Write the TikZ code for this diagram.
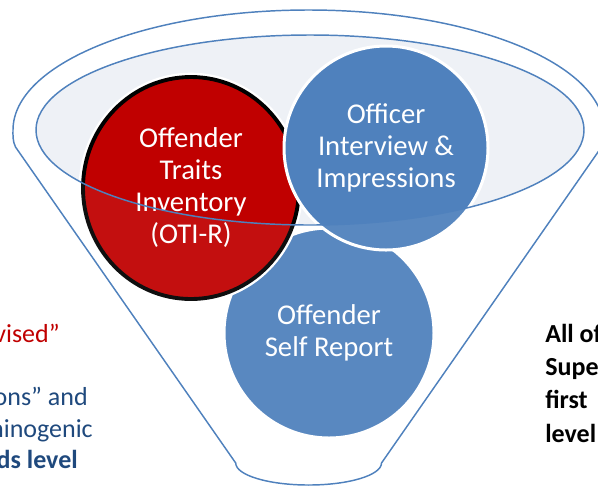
\documentclass[tikz,border=0pt]{standalone}
\usepackage{fontspec}
\setmainfont{Carlito}
\usetikzlibrary{shapes.geometric}

\definecolor{funnelblue}{RGB}{79,129,189}
\definecolor{otired}{RGB}{192,0,0}
\definecolor{notenavy}{RGB}{31,73,125}
\definecolor{rimfill}{RGB}{238,241,246}

% funnel outline (px, y downwards)
\def\funnelpath{(235.7,463) -- (15.5,147) .. controls (12.5,141) and (13,135) .. (13,130)
  arc[start angle=180, end angle=360, x radius=295.5, y radius=120]
  .. controls (604,135) and (604.5,141) .. (601.5,147) -- (381.5,463)
  arc[start angle=0, end angle=180, x radius=72.9, y radius=22] -- cycle}

\begin{document}
\begin{tikzpicture}[x=0.75pt, y=-0.75pt,
    every node/.style={font=\fontsize{21.5}{24}\selectfont, align=center},
    source/.style={circle, fill=funnelblue, draw=white, line width=2.25pt, text=white, inner sep=0pt},
    sidenote/.style={font=\fontsize{19.5}{23}\selectfont, inner sep=0pt},
    boldnote/.style={sidenote, font=\fontsize{19.5}{23}\selectfont\bfseries}]
        \useasboundingbox (0,0) rectangle (598,487);

        % Funnel opening
        \fill[rimfill] (310,130) ellipse [x radius=274, y radius=95];

        % The three sources
        \node[source, minimum size=157.5pt] (selfreport) at (329,333) {Offender\\Self Report};
        \node[ellipse, fill=otired, draw=black, line width=2.9pt, text=white, inner sep=0pt,
              minimum width=162pt, minimum height=166.5pt,
              preaction={draw=white, line width=6.5pt}] (oti) at (191,188) {Offender\\Traits\\Inventory\\(OTI-R)};
        \node[source, minimum size=153pt] (officer) at (386,148) {Officer\\Interview \&\\Impressions};

        % Funnel body in front
        \begin{scope}
            \clip \funnelpath;
            \fill[white, opacity=0.06, even odd rule] (0,0) rectangle (598,487) (310,130) ellipse [x radius=274, y radius=95];
        \end{scope}
        \draw[funnelblue, line width=1.1pt] (310,130) ellipse [x radius=274, y radius=95];
        \draw[funnelblue, line width=1.1pt] \funnelpath;

        % Notes on the left
        \node[sidenote, anchor=base east, text=otired] (revised) at (60,342) {vised”};
        \node[sidenote, anchor=base east, text=notenavy] (impress) at (88,405) {ons” and};
        \node[sidenote, anchor=base east, text=notenavy] (crimino) at (93,437) {minogenic};
        \node[boldnote, anchor=base east, text=notenavy] (needs) at (78,468) {ds level};

        % Notes on the right
        \node[boldnote, anchor=base west] (allof) at (545,342) {All of};
        \node[boldnote, anchor=base west] (super) at (545,375) {Super};
        \node[boldnote, anchor=base west] (first) at (545,408) {first};
        \node[boldnote, anchor=base west] (level) at (545,442) {level};
\end{tikzpicture}
\end{document}
